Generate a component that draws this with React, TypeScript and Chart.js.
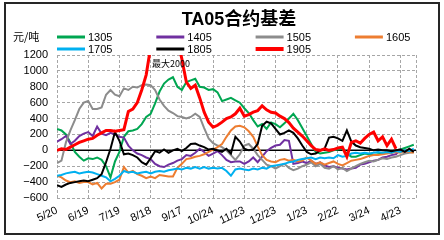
import { useEffect, useRef } from "react";
import { Chart, registerables } from "chart.js";

Chart.register(...registerables);

const chartTitle = "TA05合约基差";
const unitLabel = "元/吨";
const seriesNames = ["1305", "1405", "1505", "1605", "1705", "1805", "1905"];
const seriesColors = ["#00A651", "#7030A0", "#8C8C8C", "#ED7D31", "#00B0F0", "#000000", "#FF0000"];
const xTickLabels = ["5/20", "6/19", "7/19", "8/18", "9/17", "10/24", "11/23", "12/23", "1/23", "2/22", "3/24", "4/23"];
const yTickMin = -600;
const yTickMax = 1200;
const yTickStep = 200;
const X_STEP = 3; // trading days between stored points
const TICK_EVERY = 21; // trading days between axis labels
const X_MAX = 241.5; // trading days on the axis

const s1305 = [
  270, 250, 200, 100, -20, -80, -130,
  -100, -110, -90, -120, -200, -340, -140,
  -20, 170, 240, 250, 270, 330, 420,
  460, 590, 740, 840, 890, 920, 800,
  760, 860, 880, 900, 800, 790, 760,
  770, 730, 620, 640, 660, 630, 600,
  530, 470, 380, 300, 330, 270, 350,
  330, 290, 340, 400, 460, 380, 280,
  180, 80, -20, -40, -30, -20, 0,
  10, 20, -40, -80, -80, -60, -40,
  -50, -60, -50, -40, -20, -30, 0,
  10, 30, 50, 70,
];
const s1405 = [
  110, 140, 180, 80, 120, 180, 210,
  230, 180, 300, 210, 190, 220, 200,
  170, 160, 60, 0, -40, -60, -90,
  -110, -170, -200, -210, -180, -160, -130,
  -110, -60, -70, -30, 20, -20, -70,
  -40, -10, -60, -120, -150, -140, -140,
  -170, -140, -90, -150, -80, -10, 30,
  60, 70, 130, 120, -170, -160, -140,
  -160, -130, -170, -150, -190, -210, -200,
  -220, -230, -240, -230, -220, -180, -170,
  -150, -130, -120, -90, -80, -60, -50,
  10, -20, 0, -10,
];
const s1505 = [
  -160, -130, 100, 250, 380, 520, 600,
  620, 520, 520, 540, 700, 760, 700,
  680, 780, 760, 800, 790, 820, 830,
  820, 760, 640, 560, 500, 470, 430,
  420, 400, 420, 460, 420, 280, 150,
  90, 60, 40, 0, -60, -120, -50,
  60, 80, 20, -60, -120, -180, -200,
  -230, -200, -170, -220, -250, -230, -200,
  -180, -150, -200, -170, -220, -230, -200,
  -240, -220, -260, -230, -200, -170, -150,
  -130, -140, -120, -100, -110, -90, -80,
  -60, -40, -30, -20,
];
const s1605 = [
  -320, -340, -380, -400, -390, -410, -400,
  -400, -430, -410, -480, -420, -420, -400,
  -370, -210, -280, -260, -300, -320, -350,
  -330, -350, -310, -320, -330, -330, -220,
  -170, -110, -100, -80, -70, -50, -20,
  10, 40, 80, 170, 250, 300, 310,
  290, 240, 170, 50, -60, -120, -140,
  -150, -120, -110, -130, -120, -140, -130,
  -90, -130, -170, -150, -180, -160, -140,
  -170, -190, -160, -130, -120, -110, -90,
  -70, -60, -60, -50, -40, -30, -20,
  -30, -10, -20, -30,
];
const s1705 = [
  -320, -310, -290, -280, -270, -290, -280,
  -270, -280, -300, -320, -340, -390, -360,
  -320, -260, -280, -270, -290, -280, -270,
  -290, -270, -260, -270, -250, -240, -230,
  -240, -220, -230, -210, -230, -210, -230,
  -220, -230, -220, -260, -320, -240, -230,
  -240, -250, -230, -240, -220, -230, -200,
  -190, -180, -170, -150, -140, -120, -110,
  -100, -90, -110, -90, -100, -90, -100,
  -60, -80, -70, -40, -30, -40, -30,
  -40, -30, -20, -30, -20, -30, -10,
  -20, 0, -10, 20,
];
const s1805 = [
  -440, -460, -430, -410, -400, -390, -380,
  -390, -370, -350, -300, -150, 20, 230,
  120, -50, -40, -60, -90, -150, -180,
  -100, -10, -30, 10, -30, 0, 20,
  -10, 30, 80, 85, 60, 40, 10,
  20, 0, -20, 20, -40, 170, 110,
  20, 0, 10, 80, 310, 360, 340,
  270, 200, 220, 250, 220, 150, 60,
  -20, -50, -40, 0, 20, 160, 170,
  150, 120, 250, 110, 60, 40, 30,
  20, 0, 10, 0, 0, -10, 0,
  10, -20, 20, -20,
];
const s1905 = [
  0, 20, 10, 40, 70, 100, 120,
  140, 150, 190, 220, 250, 250, 240,
  250, 260, 490, 520, 600, 760, 950,
  1300, 1600, 1800, 2000, 1800, 1600, 1400,
  1150, 860, 780, 820, 660, 480, 355,
  290, 315, 355, 400, 420, 460, 530,
  430, 450, 480, 500, 560, 510, 480,
  470, 430, 400, 350, 280, 230, 180,
  120, 60, 10, 0, 20, 0, 10,
  30, 40, -80, 100, 120, 90, 150,
  200, 230, 120, 170, 60, 140, 20,
  null, null, null, null,
];

const allSeries: (number | null)[][] = [s1305, s1405, s1505, s1605, s1705, s1805, s1905];

const TICK_FONT = 'Arial, "Liberation Sans", "Noto Sans CJK SC", sans-serif';
const GRID = "#A6A6A6";

export default function App() {
  const ref = useRef<HTMLCanvasElement>(null);

  useEffect(() => {
    const canvas = ref.current;
    if (!canvas) return;
    const datasets = allSeries.map((vals, i) => ({
      label: seriesNames[i],
      data: vals.map((v, k) => ({ x: k * X_STEP, y: v })),
      borderColor: seriesColors[i],
      backgroundColor: seriesColors[i],
      borderWidth: i === 6 ? 3 : 2,
      pointRadius: 0,
      tension: 0,
      order: allSeries.length - i,
      spanGaps: false,
    }));
    const tickValues = xTickLabels.map((_, i) => i * TICK_EVERY);

    const decor = {
      id: "decor",
      beforeDatasetsDraw(chart: any) {
        const { ctx, chartArea, scales } = chart;
        const y0 = scales.y.getPixelForValue(0);
        ctx.save();
        ctx.strokeStyle = "#000";
        ctx.lineWidth = 1.5;
        ctx.beginPath();
        ctx.moveTo(chartArea.left, y0);
        ctx.lineTo(chartArea.right, y0);
        ctx.stroke();
        ctx.restore();
      },
      afterDraw(chart: any) {
        const { ctx, scales } = chart;
        ctx.save();
        ctx.fillStyle = "#000";
        ctx.textBaseline = "middle";
        ctx.textAlign = "center";
        ctx.font = 'bold 18px "Liberation Sans", "Noto Sans CJK SC", sans-serif';
        ctx.fillText(chartTitle, 233, 16);
        ctx.textAlign = "left";
        ctx.font = '11px "Noto Sans CJK SC", sans-serif';
        ctx.fillText(unitLabel, 7, 33);
        seriesNames.forEach((name, i) => {
          const col = i % 4;
          const row = Math.floor(i / 4);
          const x0 = 51 + col * 99.3;
          const y0 = 33 + row * 12;
          ctx.strokeStyle = seriesColors[i];
          ctx.lineWidth = i === 6 ? 4 : 3;
          ctx.beginPath();
          ctx.moveTo(x0, y0);
          ctx.lineTo(x0 + 28, y0);
          ctx.stroke();
          ctx.font = "11px " + TICK_FONT;
          ctx.fillText(name, x0 + 31, y0 + 0.5);
        });
        // annotation of the clipped maximum of the 1905 series
        let maxIdx = 0;
        s1905.forEach((v, k) => {
          if (v !== null && v > (s1905[maxIdx] as number)) maxIdx = k;
        });
        const mx = scales.x.getPixelForValue(maxIdx * X_STEP);
        const my = scales.y.getPixelForValue(yTickMax);
        ctx.font = '9px "Noto Sans CJK SC", sans-serif';
        ctx.fillText("最大" + s1905[maxIdx], mx - 12, my + 9);
        ctx.restore();
      },
    };

    const chart = new Chart(canvas, {
      type: "line",
      data: { datasets } as any,
      options: {
        responsive: false,
        animation: false,
        layout: { padding: { left: 0, right: 22, top: 51, bottom: 0 } },
        plugins: {
          legend: { display: false },
          tooltip: { enabled: false },
          title: { display: false },
        },
        scales: {
          x: {
            type: "linear",
            min: 0,
            max: X_MAX,
            afterBuildTicks: (s: any) => {
              s.ticks = [...tickValues.map((v) => ({ value: v })), { value: X_MAX }];
            },
            afterFit: (s: any) => {
              s.height = 35;
            },
            ticks: {
              autoSkip: false,
              minRotation: 25,
              maxRotation: 25,
              padding: 6,
              color: "#000",
              font: { family: TICK_FONT, size: 11 },
              callback: (v: any) => {
                const n = Number(v);
                if (n % TICK_EVERY !== 0) return "";
                return xTickLabels[Math.round(n / TICK_EVERY)] ?? "";
              },
            },
            grid: { color: GRID, lineWidth: 1, drawTicks: false },
            border: { display: false, dash: [3, 2] },
          },
          y: {
            min: yTickMin,
            max: yTickMax,
            afterFit: (s: any) => {
              s.width = 51;
            },
            ticks: {
              stepSize: yTickStep,
              autoSkip: false,
              padding: 9,
              color: "#000",
              font: { family: TICK_FONT, size: 11 },
              callback: (v: any) => String(v).replace("-", "\u2212"),
            },
            grid: { color: GRID, lineWidth: 1, drawTicks: false },
            border: { display: false, dash: [3, 2] },
          },
        },
      } as any,
      plugins: [decor],
    });
    return () => chart.destroy();
  }, []);

  return (
    <div style={{ position: "fixed", left: 0, top: 0, width: 444, height: 240, background: "#fff" }}>
      <div
        style={{
          position: "absolute",
          left: 4,
          top: 2,
          width: 436,
          height: 233,
          boxSizing: "border-box",
          border: "2px solid #262626",
        }}
      >
        <canvas ref={ref} width={432} height={229} style={{ display: "block" }} />
      </div>
    </div>
  );
}
